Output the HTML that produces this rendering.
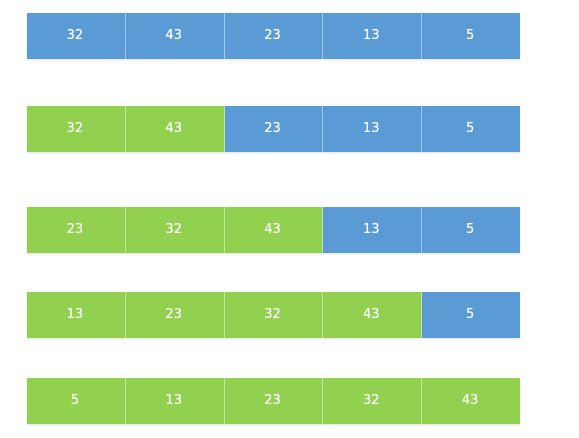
<!DOCTYPE html>
<html><head><meta charset="utf-8"><style>
body{margin:0;width:579px;height:438px;background:#fff;position:relative;overflow:hidden;font-family:"DejaVu Sans","Liberation Sans",sans-serif}
.row{position:absolute;left:27px;width:493px;height:46px;display:flex;box-shadow:0 1px 2px rgba(0,0,0,0.12)}
.cell{flex:1;color:#fff;font-size:13px;display:flex;align-items:center;justify-content:center;border-right:1px solid rgba(255,255,255,0.45);box-sizing:border-box;padding-bottom:2px;padding-right:2px;text-shadow:0 0 0.4px #fff}
.cell:last-child{border-right:none}
.b{background:#5b9bd5}.g{background:#92d050}
</style></head><body>
<script>
const rows=[[32,43,23,13,5],[32,43,23,13,5],[23,32,43,13,5],[13,23,32,43,5],[5,13,23,32,43]];
const sortedCount=[0,2,3,4,5];
const tops=[13,106,207,292,378];
rows.forEach((r,i)=>{
 const d=document.createElement('div');d.className='row';d.style.top=tops[i]+'px';
 
 
 r.forEach((v,j)=>{
  const c=document.createElement('div');c.className='cell '+(j<sortedCount[i]?'g':'b');c.textContent=v;
  
  
  d.appendChild(c);
 });
 document.body.appendChild(d);
});
</script>
</body></html>
